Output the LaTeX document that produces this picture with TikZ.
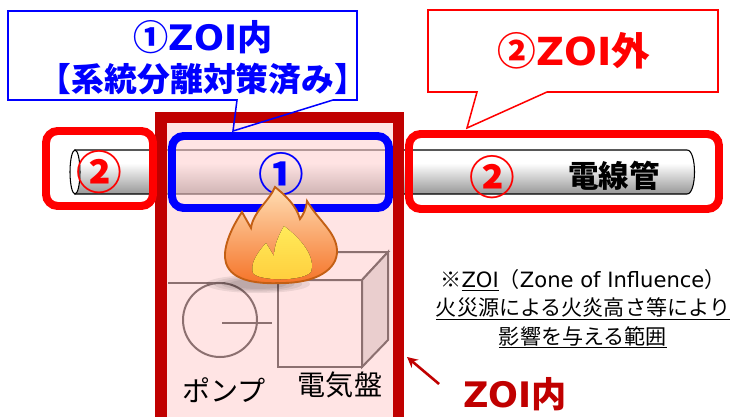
\documentclass[tikz,border=0pt]{standalone}
\usepackage{fontspec}
\setmainfont{Noto Sans CJK JP}
\newfontfamily\latin{DejaVu Sans}
\usetikzlibrary{arrows.meta}

\definecolor{zoired}{RGB}{192,0,0}
\definecolor{zoipink}{RGB}{255,205,205}
\definecolor{flameedge}{RGB}{195,95,20}
\definecolor{flametop}{RGB}{255,222,180}
\definecolor{flamebot}{RGB}{245,115,40}
\definecolor{coretop}{RGB}{255,235,90}
\definecolor{corebot}{RGB}{255,205,60}

% grey cylinder body
\pgfdeclareverticalshading{pipeshade}{100bp}{color(0bp)=(black!62); color(30bp)=(black!35); color(60bp)=(white); color(72bp)=(white); color(100bp)=(black!14)}

\begin{document}
\begin{tikzpicture}[x=0.03cm,y=-0.03cm,
  callout/.style={line width=1.3pt},
  zonebox/.style={line width=6.8pt,rounded corners=10pt},
  thinline/.style={line width=1.7pt},
  cnum/.style={font=\bfseries\fontsize{39pt}{39pt}\selectfont},
  labelfont/.style={font=\fontsize{24pt}{24pt}\selectfont}]

\useasboundingbox (0,0) rectangle (733,416);
\clip (0,0) rectangle (733,416);

% cut-off bracket at the left
\node[anchor=east, font=\bfseries\fontsize{22pt}{22pt}\selectfont] (paren) at (6,103) {)};

% conduit
\draw[line width=0.9pt, shading=pipeshade] (75,150) -- (687,150) .. controls (697,150) and (697,194) .. (687,194) -- (75,194) -- cycle;
\draw[line width=0.9pt, fill=white] (75,172) ellipse [x radius=5, y radius=22];

% pump
\draw[thinline] (220,320) circle [radius=37];
\draw[thinline] (168,283) -- (225,283);
\draw[thinline] (222,323) -- (272,323);

% panel
\draw[thinline, fill=white] (278,280) rectangle (362,367);
\draw[thinline, fill=white] (278,280) -- (304,252) -- (388,252) -- (362,280) -- cycle;
\draw[thinline, fill=black!18] (362,280) -- (388,252) -- (388,340) -- (362,367) -- cycle;

% zone of influence
\fill[zoipink, opacity=0.55] (161,117) rectangle (399,420);
\draw[zoired, line width=9.4pt] (161,117.5) rectangle (398.5,425);

% zone frames on the conduit
\draw[red, zonebox] (46,131) rectangle (153,206);
\draw[blue, zonebox] (172,136) rectangle (389,208);
\draw[red, zonebox] (409,134) rectangle (719,209);

\node[cnum, red] (numleft) at (99,172) {②};
\node[cnum, blue] (numin) at (281,174) {①};
\node[cnum, red] (numright) at (492,177) {②};
\node[font=\bfseries\fontsize{26pt}{26pt}\selectfont] (conduit) at (614,176) {電線管};

% flame and its shadow
\foreach \r in {0.55,0.7,0.85,1} {
  \fill[black, opacity=0.07] (258,284) ellipse [x radius=52*\r, y radius=9*\r];
}
\draw[flameedge, line width=1.6pt, top color=flametop, bottom color=flamebot]
  (275,187) .. controls (270,200) and (253,212) .. (251,228)
  -- (242,212)
  .. controls (230,230) and (222,250) .. (226,263)
  .. controls (232,282) and (260,284) .. (282,283)
  .. controls (315,283) and (338,270) .. (337,250)
  .. controls (336,232) and (318,220) .. (307,201)
  .. controls (306,210) and (303,215) .. (300,219)
  .. controls (296,205) and (285,195) .. (275,187) -- cycle;
\fill[top color=coretop, bottom color=corebot]
  (284,226) .. controls (277,238) and (274,248) .. (274,256)
  -- (266,243)
  .. controls (256,254) and (250,265) .. (253,273)
  .. controls (258,281) and (302,282) .. (311,272)
  .. controls (316,256) and (300,238) .. (284,226) -- cycle;

\node[labelfont] (pumplbl) at (224,390) {ポンプ};
\node[labelfont] (panellbl) at (340,385) {電気盤};

% callouts
\draw[blue, callout] (8,11) -- (357,11) -- (357,100) -- (333,100) -- (233,131) -- (237,100) -- (8,100) -- cycle;
\node[font=\bfseries\fontsize{30pt}{30pt}\selectfont, blue] (inhead) at (203,37) {①{\latin ZOI}内};
\node[font=\bfseries\fontsize{28pt}{28pt}\selectfont, blue] (insub) at (203,79) {【系統分離対策済み】};

\draw[red, callout] (428,10) -- (718,10) -- (718,92) -- (547,92) -- (467,128) -- (477,92) -- (428,92) -- cycle;
\node[font=\bfseries\fontsize{33pt}{33pt}\selectfont, red] (outhead) at (574,51) {②{\latin ZOI}外};

% note on the zone
\node[align=center, font=\fontsize{18pt}{24pt}\selectfont] (note) at (583,309)
  {※\underline{\latin ZOI}（{\latin Zone of Influence}）\\ \underline{火災源による火炎高さ等により}\\ \underline{影響を与える範囲}};

\node[font=\bfseries\fontsize{30pt}{30pt}\selectfont, zoired] (zoiin) at (515,394) {{\latin ZOI}内};
\coordinate (zoiedge) at (407,357);
\draw[zoired, line width=2.2pt, -{Stealth[length=9pt,width=9pt]}] ([shift={(-20,-10)}]zoiin.west) -- (zoiedge);

\end{tikzpicture}
\end{document}
